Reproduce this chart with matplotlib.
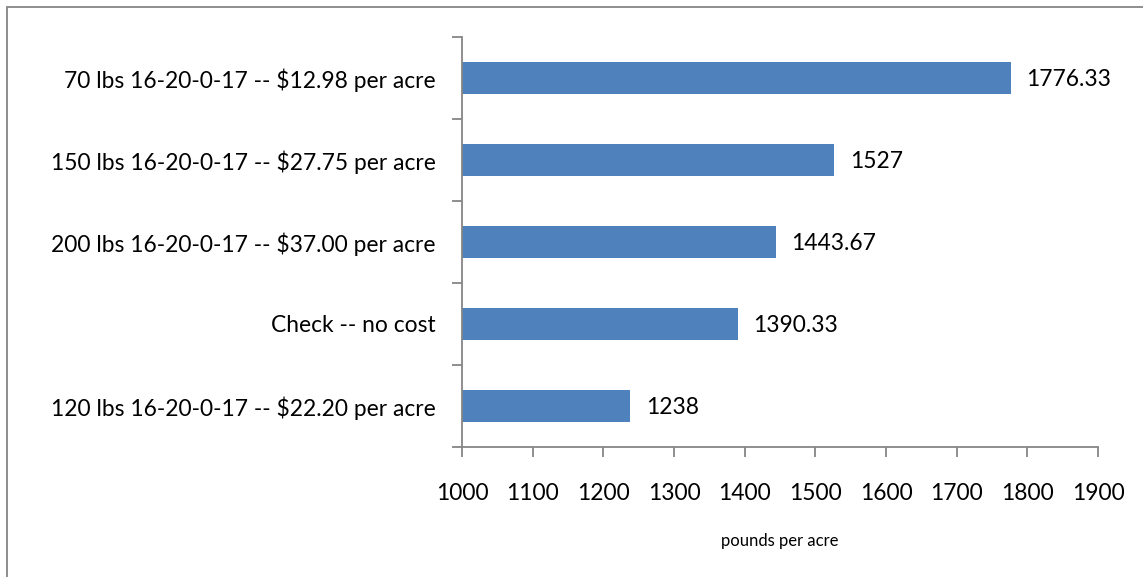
import matplotlib.pyplot as plt
from matplotlib.patches import Rectangle

# Données (du bas vers le haut)
categories = [
    "120 lbs 16-20-0-17 -- $22.20 per acre",
    "Check -- no cost",
    "200 lbs 16-20-0-17 -- $37.00 per acre",
    "150 lbs 16-20-0-17 -- $27.75 per acre",
    "70 lbs 16-20-0-17 -- $12.98 per acre",
]
yields = [1238, 1390.33, 1443.67, 1527, 1776.33]
value_labels = ["1238", "1390.33", "1443.67", "1527", "1776.33"]
x_ticks = [1000, 1100, 1200, 1300, 1400, 1500, 1600, 1700, 1800, 1900]

plt.rcParams['font.family'] = ['Lato', 'DejaVu Sans']
axis_color = '#868686'

fig = plt.figure(figsize=(11.43, 5.77), dpi=100)
ax = fig.add_axes([462 / 1143, 130 / 577, 636 / 1143, 410 / 577])

# Cadre du graphique
fig.patches.append(Rectangle((7 / 1143, -0.01), 1.05, 1 - 7 / 577 + 0.01,
                             transform=fig.transFigure, fill=False,
                             edgecolor=axis_color, linewidth=1.3))

base = x_ticks[0]
ypos = list(range(len(categories)))
ax.barh(ypos, [v - base for v in yields], left=base, height=0.4, color='#4F81BD')

for y, v, lab in zip(ypos, yields, value_labels):
    ax.text(v + 22, y - 0.02, lab, va='center', ha='left', fontsize=16.4, color='black')

ax.set_xlim(x_ticks[0], x_ticks[-1])
ax.set_ylim(-0.5, len(categories) - 0.5)
ax.set_xticks(x_ticks)
ax.set_xticklabels([str(t) for t in x_ticks], fontsize=16.4)

# Libellés des catégories au centre, graduations entre les catégories
ax.set_yticks(ypos)
ax.set_yticklabels(categories, fontsize=16.4)
ax.set_yticks([i - 0.5 for i in range(len(categories) + 1)], minor=True)
ax.tick_params(axis='y', which='major', length=0, pad=19)
ax.tick_params(axis='y', which='minor', length=7, color=axis_color, width=1.3)
ax.tick_params(axis='x', length=7, color=axis_color, width=1.3, pad=19)

for side in ['top', 'right']:
    ax.spines[side].set_visible(False)
for side in ['left', 'bottom']:
    ax.spines[side].set_color(axis_color)
    ax.spines[side].set_linewidth(1.3)

ax.set_xlabel("pounds per acre", fontsize=12, labelpad=21)

fig.savefig("out.png", dpi=100)
